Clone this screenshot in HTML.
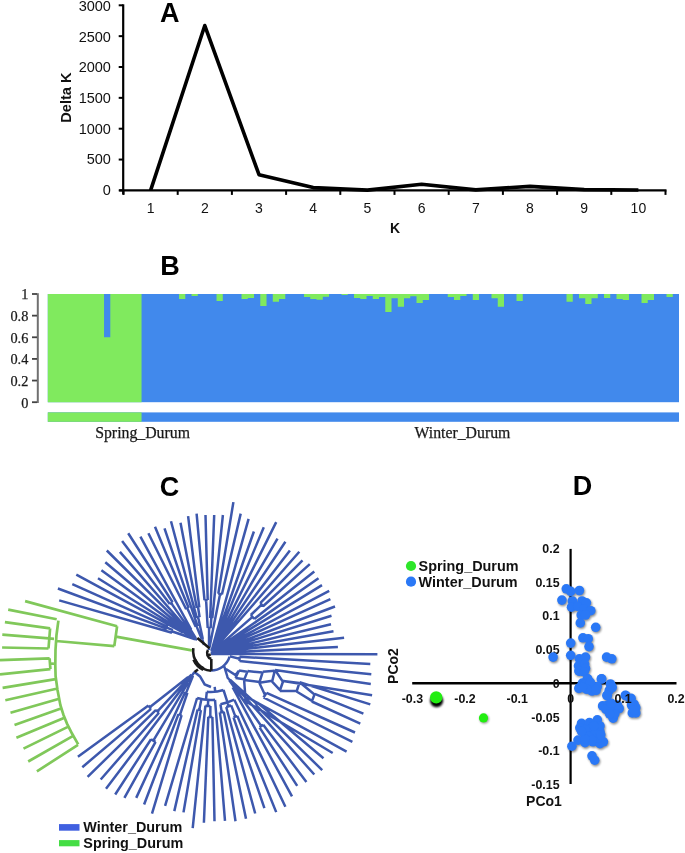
<!DOCTYPE html>
<html><head><meta charset="utf-8"><style>
html,body{margin:0;padding:0;background:#fff;width:685px;height:853px;overflow:hidden}
svg{display:block;will-change:transform}
.sa{font-family:"Liberation Sans",sans-serif;font-size:14px;fill:#111}
.sab{font-family:"Liberation Sans",sans-serif;font-size:14px;font-weight:bold;fill:#111}
.sdb{font-family:"Liberation Sans",sans-serif;font-size:12.4px;font-weight:bold;fill:#111}
.big{font-family:"Liberation Sans",sans-serif;font-size:27px;font-weight:bold;fill:#000}
.se{font-family:"Liberation Serif",serif;font-size:14.3px;fill:#1a1a1a;stroke:#1a1a1a;stroke-width:0.25px}
.se2{font-family:"Liberation Serif",serif;font-size:15.8px;fill:#1a1a1a;stroke:#1a1a1a;stroke-width:0.25px}
</style></head><body>
<svg width="685" height="853" viewBox="0 0 685 853">
<defs><filter id="blur1" x="-50%" y="-50%" width="200%" height="200%"><feGaussianBlur stdDeviation="1"/></filter></defs>
<line x1="123.2" y1="4.299999999999983" x2="123.2" y2="194.4" stroke="#000" stroke-width="2.2"/>
<line x1="118.7" y1="190.40" x2="123.2" y2="190.40" stroke="#000" stroke-width="2"/>
<text x="110.9" y="195.10" text-anchor="end" class="sa" style="font-size:14.5px">0</text>
<line x1="118.7" y1="159.55" x2="123.2" y2="159.55" stroke="#000" stroke-width="2"/>
<text x="110.9" y="164.42" text-anchor="end" class="sa" style="font-size:14.5px">500</text>
<line x1="118.7" y1="128.70" x2="123.2" y2="128.70" stroke="#000" stroke-width="2"/>
<text x="110.9" y="133.74" text-anchor="end" class="sa" style="font-size:14.5px">1000</text>
<line x1="118.7" y1="97.85" x2="123.2" y2="97.85" stroke="#000" stroke-width="2"/>
<text x="110.9" y="103.06" text-anchor="end" class="sa" style="font-size:14.5px">1500</text>
<line x1="118.7" y1="67.00" x2="123.2" y2="67.00" stroke="#000" stroke-width="2"/>
<text x="110.9" y="72.38" text-anchor="end" class="sa" style="font-size:14.5px">2000</text>
<line x1="118.7" y1="36.15" x2="123.2" y2="36.15" stroke="#000" stroke-width="2"/>
<text x="110.9" y="41.70" text-anchor="end" class="sa" style="font-size:14.5px">2500</text>
<line x1="118.7" y1="5.30" x2="123.2" y2="5.30" stroke="#000" stroke-width="2"/>
<text x="110.9" y="11.02" text-anchor="end" class="sa" style="font-size:14.5px">3000</text>
<line x1="119.2" y1="190.4" x2="666.5" y2="190.4" stroke="#000" stroke-width="2.4"/>
<line x1="123.50" y1="190.4" x2="123.50" y2="194.9" stroke="#000" stroke-width="2"/>
<line x1="177.70" y1="190.4" x2="177.70" y2="194.9" stroke="#000" stroke-width="2"/>
<line x1="231.90" y1="190.4" x2="231.90" y2="194.9" stroke="#000" stroke-width="2"/>
<line x1="286.10" y1="190.4" x2="286.10" y2="194.9" stroke="#000" stroke-width="2"/>
<line x1="340.30" y1="190.4" x2="340.30" y2="194.9" stroke="#000" stroke-width="2"/>
<line x1="394.50" y1="190.4" x2="394.50" y2="194.9" stroke="#000" stroke-width="2"/>
<line x1="448.70" y1="190.4" x2="448.70" y2="194.9" stroke="#000" stroke-width="2"/>
<line x1="502.90" y1="190.4" x2="502.90" y2="194.9" stroke="#000" stroke-width="2"/>
<line x1="557.10" y1="190.4" x2="557.10" y2="194.9" stroke="#000" stroke-width="2"/>
<line x1="611.30" y1="190.4" x2="611.30" y2="194.9" stroke="#000" stroke-width="2"/>
<line x1="665.50" y1="190.4" x2="665.50" y2="194.9" stroke="#000" stroke-width="2"/>
<text x="150.60" y="213" text-anchor="middle" class="sa">1</text>
<text x="204.80" y="213" text-anchor="middle" class="sa">2</text>
<text x="259.00" y="213" text-anchor="middle" class="sa">3</text>
<text x="313.20" y="213" text-anchor="middle" class="sa">4</text>
<text x="367.40" y="213" text-anchor="middle" class="sa">5</text>
<text x="421.60" y="213" text-anchor="middle" class="sa">6</text>
<text x="475.80" y="213" text-anchor="middle" class="sa">7</text>
<text x="530.00" y="213" text-anchor="middle" class="sa">8</text>
<text x="584.20" y="213" text-anchor="middle" class="sa">9</text>
<text x="638.40" y="213" text-anchor="middle" class="sa">10</text>
<text x="395" y="232.5" text-anchor="middle" class="sab">K</text>
<text transform="translate(71.2,97.6) rotate(-90)" text-anchor="middle" class="sab" style="font-size:14.6px">Delta K</text>
<polyline points="150.60,190.40 204.80,25.54 259.00,174.73 313.20,187.62 367.40,190.09 421.60,184.29 475.80,189.91 530.00,186.33 584.20,189.66 638.40,190.03" fill="none" stroke="#000" stroke-width="3.6" stroke-linejoin="round"/>
<text x="169.7" y="22.3" text-anchor="middle" class="big">A</text>
<rect x="47.8" y="294.0" width="631.20" height="108.19999999999999" fill="#4189ec"/>
<path d="M47.8 294.0H104.05V337.28H110.30V294.0H141.54V402.2H47.8Z" fill="#80ea5e"/>
<path d="M141.54 294.0V294.00H147.79V294.00H154.04V294.00H160.29V294.00H166.54V294.00H172.79V294.00H179.04V298.90H185.29V294.00H191.54V296.00H197.79V294.00H204.04V294.00H210.29V294.00H216.54V300.90H222.79V294.00H229.04V294.00H235.29V294.00H241.53V298.90H247.78V298.10H254.03V294.00H260.28V305.90H266.53V294.00H272.78V301.80H279.03V298.90H285.28V294.00H291.53V294.00H297.78V294.00H304.03V297.00H310.28V298.90H316.53V299.80H322.78V296.80H329.03V294.00H335.28V294.00H341.53V295.00H347.78V294.00H354.03V298.10H360.28V298.90H366.52V296.10H372.77V298.90H379.02V297.10H385.27V311.90H391.52V298.20H397.77V306.80H404.02V298.20H410.27V296.20H416.52V303.10H422.77V300.00H429.02V294.00H435.27V294.00H441.52V294.00H447.77V297.10H454.02V299.90H460.27V296.10H466.52V294.00H472.77V299.90H479.02V294.00H485.27V294.00H491.51V298.20H497.76V306.80H504.01V294.00H510.26V294.00H516.51V301.10H522.76V294.00H529.01V294.00H535.26V294.00H541.51V294.00H547.76V294.00H554.01V294.00H560.26V294.00H566.51V301.80H572.76V294.00H579.01V298.20H585.26V304.00H591.51V298.20H597.76V294.00H604.01V298.00H610.26V294.00H616.50V299.00H622.75V299.90H629.00V294.00H635.25V294.00H641.50V303.00H647.75V299.90H654.00V294.00H660.25V294.00H666.50V296.90H672.75V294.00H679.00V294.0Z" fill="#80ea5e"/>
<rect x="47.8" y="412.4" width="631.20" height="9.4" fill="#4189ec"/>
<rect x="47.8" y="412.4" width="93.74" height="9.4" fill="#80ea5e"/>
<line x1="37.8" y1="293.2" x2="37.8" y2="403.0" stroke="#707070" stroke-width="2"/>
<line x1="32" y1="402.20" x2="37" y2="402.20" stroke="#444" stroke-width="1.8"/>
<text x="28.3" y="407.50" text-anchor="end" class="se">0</text>
<line x1="32" y1="380.56" x2="37" y2="380.56" stroke="#444" stroke-width="1.8"/>
<text x="28.3" y="385.86" text-anchor="end" class="se">0.2</text>
<line x1="32" y1="358.92" x2="37" y2="358.92" stroke="#444" stroke-width="1.8"/>
<text x="28.3" y="364.22" text-anchor="end" class="se">0.4</text>
<line x1="32" y1="337.28" x2="37" y2="337.28" stroke="#444" stroke-width="1.8"/>
<text x="28.3" y="342.58" text-anchor="end" class="se">0.6</text>
<line x1="32" y1="315.64" x2="37" y2="315.64" stroke="#444" stroke-width="1.8"/>
<text x="28.3" y="320.94" text-anchor="end" class="se">0.8</text>
<line x1="32" y1="294.00" x2="37" y2="294.00" stroke="#444" stroke-width="1.8"/>
<text x="28.3" y="299.30" text-anchor="end" class="se">1</text>
<text x="95.2" y="438.4" class="se2">Spring_Durum</text>
<text x="414.5" y="438.4" class="se2">Winter_Durum</text>
<text x="170" y="275.3" text-anchor="middle" class="big">B</text>
<text x="169.6" y="495.5" text-anchor="middle" class="big">C</text>
<rect x="59" y="824.1" width="20.5" height="6.6" fill="#4060e0"/>
<rect x="59" y="840.1" width="20.5" height="6.2" fill="#44dd44"/>
<text x="83.3" y="831.9" class="sab" style="font-size:14.4px">Winter_Durum</text>
<text x="83.3" y="848.3" class="sab" style="font-size:14.4px">Spring_Durum</text>
<path d="M191.8 650.3L115.9 636.7M117.1 626.2L114.3 646.1M117.1 626.2L25.1 601.1M114.3 646.1L56 641M58.4 620.6L56.5 635L55.5 650L55.3 665L55.6 676.3L57.5 690L60.4 705.2L63.5 715L67 723.6L72 733.5L78.2 744.3M56.7 619.3L8.2 609.6M55.7 679.1L2.6 687.8M57.5 688.5L5.3 700.2M60.1 698.5L10.5 712.8M61.6 708.3L14.5 724.9M65.1 717.4L16.4 737.8M67.8 726.9L23.5 748.6M72.7 736.2L28.2 761.5M78.0 744.8L36.9 771.4M50.1 628.4L48.5 648.5M54.0 638.8L49.0 638.4M50.1 628.4L4.9 622.1M49.0 638.4L2.3 634.7M48.5 648.5L2.1 647.5M49.6 658.4L50.4 669.2M53.9 663.5L49.9 663.8M49.6 658.4L0 660.2M50.4 669.2L0 674.3" fill="none" stroke="#80c85a" stroke-width="2.7"/>
<path d="M172.0 632.8L59.2 600.4M167.0 628.9L57.9 588.5M167.8 626.9L72.3 584.1M167.0 628.9A32.0 32.0 0 0 1 167.8 626.9M172.9 630.2L167.4 627.9M172.0 632.8A26.0 26.0 0 0 1 172.9 630.2M195.1 639.3L172.4 631.5M182.9 632.4L76.3 574.6M183.4 631.5L98.0 578.2M182.9 632.4A16.0 16.0 0 0 1 183.4 631.5M195.3 639.0L183.2 631.9M187.3 632.9L101.4 570.2M187.8 632.2L105.3 562.2M187.3 632.9A12.0 12.0 0 0 1 187.8 632.2M195.4 638.8L187.6 632.6M184.2 627.3L106.8 550.5M185.1 626.5L119.9 551.9M184.2 627.3A18.0 18.0 0 0 1 185.1 626.5M195.6 638.5L184.7 626.9M169.8 604.1L122.1 541.0M172.6 602.2L128.2 533.2M169.8 604.1A45.0 45.0 0 0 1 172.6 602.2M190.1 630.2L171.2 603.1M191.2 629.5L140.4 536.6M190.1 630.2A12.0 12.0 0 0 1 191.2 629.5M195.9 638.3L190.7 629.8M195.1 639.3A2.0 2.0 0 0 1 195.9 638.3M197.0 640.0L195.4 638.8M186.2 609.2L148.4 533.2M188.7 608.0L155.0 526.8M186.2 609.2A40.0 40.0 0 0 1 188.7 608.0M195.7 626.8L187.4 608.6M197.6 626.1L164.5 528.3M195.7 626.8A20.0 20.0 0 0 1 197.6 626.1M201.8 639.4L196.6 626.4M196.8 617.9L171.0 521.3M196.8 607.7L180.5 522.7M199.3 607.3L188.1 516.2M196.8 607.7A38.0 38.0 0 0 1 199.3 607.3M199.6 617.3L198.1 607.5M196.8 617.9A28.0 28.0 0 0 1 199.6 617.3M202.8 639.1L198.2 617.6M201.8 639.4A6.0 6.0 0 0 1 202.8 639.1M204.0 645.0L202.3 639.3M204.5 600.2L196.6 513.6M207.7 600.0L205.5 515.0M204.5 600.2A50.0 50.0 0 0 1 207.7 600.0M207.7 628.0L206.1 600.1M210.2 618.0L214.2 515.0M212.3 618.2L222.9 515.0M210.2 618.0A32.0 32.0 0 0 1 212.3 618.2M210.6 628.1L211.3 618.1M207.7 628.0A22.0 22.0 0 0 1 210.6 628.1M209.0 647.0L209.1 628.0M218.3 593.8L233.4 502.1M221.9 594.5L240.7 513.6M218.3 593.8A57.0 57.0 0 0 1 221.9 594.5M211.7 636.3L220.1 594.1M211.7 636.3A14.0 14.0 0 0 1 211.7 636.3M209.6 647.1L211.7 636.3M209.0 647.0A3.0 3.0 0 0 1 209.6 647.1M209.0 650.0L209.3 647.0M211.5 651.1L248.6 518.9M213.7 645.5L253.9 531.5M214.1 645.6L263.8 527.3M213.7 645.5A8.0 8.0 0 0 1 214.1 645.6M211.7 651.1L213.9 645.5M211.9 651.2L276.2 522.1M212.0 651.3L277.5 538.6M214.3 648.0L285.4 541.8M214.7 648.2L289.9 550.4M214.3 648.0A6.0 6.0 0 0 1 214.7 648.2M212.2 651.4L214.5 648.1M212.3 651.5L299.3 551.7M260.2 603.2L302.5 560.4M263.0 606.2L309.8 564.1M260.2 603.2A70.0 70.0 0 0 1 263.0 606.2M250.8 615.0L261.6 604.7M254.2 618.9L314.3 571.4M250.8 615.0A55.0 55.0 0 0 1 254.2 618.9M212.5 651.7L252.5 616.9M212.6 651.9L318.5 578.3M212.7 652.0L322.0 585.1M218.1 649.3L329.2 590.9M218.3 649.7L330.4 599.2M218.1 649.3A8.0 8.0 0 0 1 218.3 649.7M212.8 652.1L218.2 649.5M212.9 652.3L335.0 606.5M212.9 652.4L331.5 615.8M220.7 650.7L331.0 624.2M220.8 651.3L333.5 631.3M220.7 650.7A10.0 10.0 0 0 1 220.8 651.3M213.0 652.6L220.8 651.0M213.0 652.8L344.1 637.7M213.0 652.9L337.9 647.1M211.5 651.1A2.0 2.0 0 0 1 213.0 652.9M211.0 653.0L212.6 651.8M257.6 702.8L323.5 758.2M255.6 705.0L322.2 770.1M257.6 702.8A40.0 40.0 0 0 1 255.6 705.0M230.0 679.7L256.6 703.9M235.0 685.9L314.3 774.5M263.2 724.8L306.4 781.9M259.5 727.4L297.2 785.9M263.2 724.8A60.0 60.0 0 0 1 259.5 727.4M233.9 686.8L261.4 726.2M232.7 687.5L292.0 796.4M235.0 685.9A12.0 12.0 0 0 1 232.7 687.5M229.3 680.3L233.9 686.8M230.0 679.7A4.0 4.0 0 0 1 229.3 680.3M227.0 677.0L229.7 680.0M225 669L227.5 677M244.1 679.9L245.5 698.7M246.7 696.9L244.3 700.5M246.7 696.9L346.6 751.7M244.3 700.5L332.7 753M259.3 682.8L265 695M266.6 692.8L263.5 697.5M266.6 692.8L355 732.5M263.5 697.5L352.4 741.9M197.1 698.0L165.1 805.8M197.6 709.5L174.3 811.1M200.9 710.1L183.5 812.4M200.9 710.1A60.0 60.0 0 0 1 197.6 709.5M201.4 699.1L199.3 709.8M205.4 705.7L192.7 828.2M208.3 716.9L203.9 822.7M212.4 717.0L214.5 821.3M212.4 717.0A66.0 66.0 0 0 1 208.3 716.9M210.4 706.0L210.3 717.0M210.4 706.0A55.0 55.0 0 0 1 205.4 705.7M208.2 699.9L207.9 705.9M215.0 699.8L225.0 820.8M215.0 699.8A49.0 49.0 0 0 1 197.1 698.0M206.8 691.8L206.0 699.7M219.8 712.4L235.5 821.3M223.7 711.7L246.0 818.7M223.7 711.7A62.0 62.0 0 0 1 219.8 712.4M220.4 704.2L221.8 712.1M226.2 707.0L255.2 813.5M233.5 717.3L264.4 808.2M237.3 715.9L276.2 812.1M237.3 715.9A70.0 70.0 0 0 1 233.5 717.3M231.2 705.4L235.4 716.6M231.2 705.4A58.0 58.0 0 0 1 226.2 707.0M227.5 702.4L228.7 706.2M234.3 699.7L285.4 806.8M234.3 699.7A54.0 54.0 0 0 1 220.4 704.2M223.5 690.0L227.5 702.4M223.5 690.0A41.0 41.0 0 0 1 206.8 691.8M214.7 686.8L215.2 691.8M194.5 672L200 676.4L204.7 684.5L211 687M181.6 715.1L152.0 813.7M178.5 714.1L144.1 804.5M181.6 715.1A45.0 45.0 0 0 1 178.5 714.1M187.4 692.8L180.0 714.6M185.3 692.0L136.2 797.9M187.4 692.8A22.0 22.0 0 0 1 185.3 692.0M193.0 675.7L186.3 692.4M155.6 741.9L124.4 797.9M151.0 739.2L115.2 794.5M155.6 741.9A80.0 80.0 0 0 1 151.0 739.2M188.3 682.3L153.3 740.6M187.2 681.6L106.0 788.7M188.3 682.3A12.0 12.0 0 0 1 187.2 681.6M192.3 675.3L187.8 681.9M159.0 712.7L100.7 779.5M156.0 709.8L87.6 776.9M159.0 712.7A54.0 54.0 0 0 1 156.0 709.8M189.0 677.8L157.4 711.3M151.0 708.9L82.3 767.2M148.4 705.5L77.9 756.7M151.0 708.9A57.0 57.0 0 0 1 148.4 705.5M188.2 676.9L149.7 707.2M189.0 677.8A8.0 8.0 0 0 1 188.2 676.9M191.5 674.7L188.6 677.4M193.0 675.7A4.0 4.0 0 0 1 191.5 674.7M194.5 672.0L192.2 675.3M211 654L377.4 654.2M229.9 656.4L239.5 658.8M239.5 656.8L239.5 661M239.5 656.8L370.3 663.9M239.5 661L371.3 674.2M226 669L235.5 675L239 670.6M239 670.6L235.5 678M239 670.6L247.3 671.8M235.5 678L244.4 679.2M247.6 671.1L244.1 679.9M247.6 671.1L262.5 672.6M244.1 679.9L259.6 681.9M262.8 671.7L259.3 682.8M262.8 671.7L274.8 670.8M259.3 682.8L272.3 680.7M275 669.9L272.1 681.6M275 669.9L282.9 681.8M272.1 681.6L280.0 690.2M283.2 681L279.7 691M283.2 681L299.4 682.9M279.7 691L296.8 690.8M299.6 682.2L296.6 691.5M299.6 682.2L314.5 694.5M296.6 691.5L312.0 700.9M314.7 693.9L311.8 701.5M275 669.9L370.8 684.1M283.2 681L372.1 695.2M299.6 682.2L370.3 704.4M314.7 693.9L363.4 713.6M311.8 701.5L360.3 723.6M229.6 656.7A19.5 19.5 0 0 1 211.0 670.5M226 671L224 666" fill="none" stroke="#3d58ad" stroke-width="2.5"/>
<path d="M198 669.5L194.5 672M193.3 648.2A19 20 0 0 0 211 670.8M211.3 659L211.3 670.8M211.3 659A6 6 0 0 1 208 650M209.5 648.2L197.3 638.1M207.3 654.8L210.8 654.8" fill="none" stroke="#1a1a1a" stroke-width="2.6"/>
<path d="M194.2 659.5A19 20 0 0 0 203.5 669.2" fill="none" stroke="#1a1a1a" stroke-width="4.2"/>

<line x1="570.6" y1="548.9" x2="570.6" y2="784" stroke="#000" stroke-width="2.2"/>
<line x1="412.2" y1="683.2" x2="676.5" y2="683.2" stroke="#000" stroke-width="2.4"/>
<text x="559.6" y="552.8" text-anchor="end" class="sdb">0.2</text>
<text x="559.6" y="586.9" text-anchor="end" class="sdb">0.15</text>
<text x="559.6" y="620.4" text-anchor="end" class="sdb">0.1</text>
<text x="559.6" y="654.0" text-anchor="end" class="sdb">0.05</text>
<text x="559.6" y="687.5" text-anchor="end" class="sdb">0</text>
<text x="559.6" y="721.6" text-anchor="end" class="sdb">-0.05</text>
<text x="559.6" y="754.5" text-anchor="end" class="sdb">-0.1</text>
<text x="559.6" y="788.6" text-anchor="end" class="sdb">-0.15</text>
<text x="544" y="805.9" text-anchor="middle" class="sab">PCo1</text>
<text transform="translate(397.7,666) rotate(-90)" text-anchor="middle" class="sab">PCo2</text>
<text x="582.5" y="494.8" text-anchor="middle" class="big">D</text>
<circle cx="411" cy="566" r="5.1" fill="#2ee62a"/>
<circle cx="411" cy="581.7" r="5.1" fill="#2a78f6"/>
<text x="418.6" y="571.2" class="sab" style="font-size:14.4px">Spring_Durum</text>
<text x="418.6" y="587.3" class="sab" style="font-size:14.4px">Winter_Durum</text>
<g fill="#000" opacity="0.45" filter="url(#blur1)"><circle cx="567.2" cy="590.2" r="4.8"/><circle cx="571.6" cy="592.8" r="4.8"/><circle cx="580.3" cy="591.9" r="4.8"/><circle cx="562.8" cy="601.5" r="4.8"/><circle cx="573.3" cy="602.4" r="4.8"/><circle cx="582.9" cy="602.4" r="4.8"/><circle cx="587.3" cy="604.2" r="4.8"/><circle cx="572.4" cy="608.6" r="4.8"/><circle cx="578.6" cy="607.7" r="4.8"/><circle cx="584.7" cy="610.3" r="4.8"/><circle cx="591.7" cy="612.1" r="4.8"/><circle cx="582.1" cy="616.4" r="4.8"/><circle cx="586.4" cy="616.4" r="4.8"/><circle cx="581.2" cy="624.3" r="4.8"/><circle cx="596.6" cy="628.7" r="4.8"/><circle cx="583.8" cy="639.2" r="4.8"/><circle cx="589.1" cy="640.1" r="4.8"/><circle cx="571.6" cy="644.5" r="4.8"/><circle cx="589.9" cy="648.0" r="4.8"/><circle cx="554.0" cy="658.5" r="4.8"/><circle cx="571.6" cy="656.7" r="4.8"/><circle cx="580.3" cy="660.2" r="4.8"/><circle cx="586.4" cy="658.5" r="4.8"/><circle cx="607.5" cy="658.5" r="4.8"/><circle cx="612.7" cy="660.2" r="4.8"/><circle cx="579.4" cy="667.2" r="4.8"/><circle cx="585.6" cy="665.5" r="4.8"/><circle cx="580.3" cy="672.5" r="4.8"/><circle cx="586.4" cy="669.9" r="4.8"/><circle cx="588.2" cy="680.4" r="4.8"/><circle cx="602.2" cy="680.4" r="4.8"/><circle cx="580.3" cy="689.1" r="4.8"/><circle cx="586.4" cy="686.5" r="4.8"/><circle cx="593.5" cy="688.3" r="4.8"/><circle cx="597.0" cy="691.8" r="4.8"/><circle cx="611.9" cy="686.5" r="4.8"/><circle cx="610.1" cy="691.8" r="4.8"/><circle cx="608.3" cy="697.0" r="4.8"/><circle cx="626.7" cy="697.0" r="4.8"/><circle cx="632.0" cy="699.7" r="4.8"/><circle cx="579.8" cy="672.3" r="4.8"/><circle cx="585.1" cy="673.2" r="4.8"/><circle cx="588.6" cy="680.2" r="4.8"/><circle cx="602.6" cy="680.2" r="4.8"/><circle cx="583.3" cy="684.5" r="4.8"/><circle cx="579.8" cy="689.8" r="4.8"/><circle cx="592.9" cy="688.0" r="4.8"/><circle cx="598.2" cy="688.0" r="4.8"/><circle cx="592.9" cy="692.4" r="4.8"/><circle cx="611.3" cy="685.4" r="4.8"/><circle cx="613.1" cy="688.9" r="4.8"/><circle cx="607.8" cy="696.8" r="4.8"/><circle cx="603.5" cy="707.3" r="4.8"/><circle cx="611.3" cy="708.2" r="4.8"/><circle cx="617.5" cy="710.8" r="4.8"/><circle cx="613.1" cy="713.4" r="4.8"/><circle cx="620.1" cy="709.9" r="4.8"/><circle cx="614.0" cy="719.6" r="4.8"/><circle cx="626.2" cy="696.8" r="4.8"/><circle cx="631.5" cy="700.3" r="4.8"/><circle cx="635.0" cy="705.6" r="4.8"/><circle cx="636.7" cy="709.1" r="4.8"/><circle cx="633.2" cy="714.3" r="4.8"/><circle cx="636.7" cy="714.3" r="4.8"/><circle cx="582.4" cy="724.8" r="4.8"/><circle cx="590.3" cy="724.0" r="4.8"/><circle cx="598.2" cy="721.3" r="4.8"/><circle cx="591.2" cy="731.0" r="4.8"/><circle cx="598.2" cy="729.2" r="4.8"/><circle cx="600.8" cy="732.7" r="4.8"/><circle cx="585.9" cy="736.2" r="4.8"/><circle cx="594.7" cy="738.0" r="4.8"/><circle cx="578.9" cy="741.5" r="4.8"/><circle cx="572.8" cy="747.6" r="4.8"/><circle cx="585.9" cy="744.1" r="4.8"/><circle cx="593.8" cy="743.2" r="4.8"/><circle cx="600.8" cy="745.0" r="4.8"/><circle cx="604.3" cy="743.2" r="4.8"/><circle cx="592.9" cy="757.2" r="4.8"/><circle cx="595.6" cy="761.6" r="4.8"/><circle cx="580.7" cy="729.2" r="4.8"/><circle cx="591.2" cy="731.0" r="4.8"/><circle cx="585.9" cy="731.0" r="4.8"/><circle cx="596.4" cy="734.4" r="4.8"/><circle cx="589.4" cy="738.0" r="4.8"/><circle cx="598.2" cy="739.7" r="4.8"/><circle cx="592.9" cy="741.4" r="4.8"/><circle cx="585.9" cy="740.6" r="4.8"/><circle cx="582.4" cy="732.7" r="4.8"/><circle cx="601.7" cy="736.2" r="4.8"/><circle cx="600.9" cy="727.4" r="4.8"/><circle cx="594.7" cy="727.4" r="4.8"/><circle cx="608.7" cy="706.4" r="4.8"/><circle cx="606.9" cy="710.8" r="4.8"/><circle cx="615.7" cy="715.2" r="4.8"/><circle cx="610.5" cy="715.2" r="4.8"/><circle cx="618.3" cy="706.4" r="4.8"/><circle cx="612.2" cy="704.7" r="4.8"/><circle cx="585.9" cy="685.4" r="4.8"/><circle cx="591.2" cy="683.7" r="4.8"/><circle cx="596.4" cy="690.7" r="4.8"/><circle cx="587.7" cy="690.7" r="4.8"/><circle cx="583.3" cy="688.9" r="4.8"/><circle cx="632.4" cy="706.4" r="4.8"/><circle cx="635.0" cy="711.7" r="4.8"/></g>
<g fill="#2a78f6"><circle cx="566.3" cy="588.8" r="4.8"/><circle cx="570.7" cy="591.4" r="4.8"/><circle cx="579.4" cy="590.5" r="4.8"/><circle cx="561.9" cy="600.1" r="4.8"/><circle cx="572.4" cy="601" r="4.8"/><circle cx="582" cy="601" r="4.8"/><circle cx="586.4" cy="602.8" r="4.8"/><circle cx="571.5" cy="607.2" r="4.8"/><circle cx="577.7" cy="606.3" r="4.8"/><circle cx="583.8" cy="608.9" r="4.8"/><circle cx="590.8" cy="610.7" r="4.8"/><circle cx="581.2" cy="615" r="4.8"/><circle cx="585.5" cy="615" r="4.8"/><circle cx="580.3" cy="622.9" r="4.8"/><circle cx="595.7" cy="627.3" r="4.8"/><circle cx="582.9" cy="637.8" r="4.8"/><circle cx="588.2" cy="638.7" r="4.8"/><circle cx="570.7" cy="643.1" r="4.8"/><circle cx="589" cy="646.6" r="4.8"/><circle cx="553.1" cy="657.1" r="4.8"/><circle cx="570.7" cy="655.3" r="4.8"/><circle cx="579.4" cy="658.8" r="4.8"/><circle cx="585.5" cy="657.1" r="4.8"/><circle cx="606.6" cy="657.1" r="4.8"/><circle cx="611.8" cy="658.8" r="4.8"/><circle cx="578.5" cy="665.8" r="4.8"/><circle cx="584.7" cy="664.1" r="4.8"/><circle cx="579.4" cy="671.1" r="4.8"/><circle cx="585.5" cy="668.5" r="4.8"/><circle cx="587.3" cy="679" r="4.8"/><circle cx="601.3" cy="679" r="4.8"/><circle cx="579.4" cy="687.7" r="4.8"/><circle cx="585.5" cy="685.1" r="4.8"/><circle cx="592.6" cy="686.9" r="4.8"/><circle cx="596.1" cy="690.4" r="4.8"/><circle cx="611" cy="685.1" r="4.8"/><circle cx="609.2" cy="690.4" r="4.8"/><circle cx="607.4" cy="695.6" r="4.8"/><circle cx="625.8" cy="695.6" r="4.8"/><circle cx="631.1" cy="698.3" r="4.8"/><circle cx="578.9" cy="670.9" r="4.8"/><circle cx="584.2" cy="671.8" r="4.8"/><circle cx="587.7" cy="678.8" r="4.8"/><circle cx="601.7" cy="678.8" r="4.8"/><circle cx="582.4" cy="683.1" r="4.8"/><circle cx="578.9" cy="688.4" r="4.8"/><circle cx="592" cy="686.6" r="4.8"/><circle cx="597.3" cy="686.6" r="4.8"/><circle cx="592" cy="691" r="4.8"/><circle cx="610.4" cy="684" r="4.8"/><circle cx="612.2" cy="687.5" r="4.8"/><circle cx="606.9" cy="695.4" r="4.8"/><circle cx="602.6" cy="705.9" r="4.8"/><circle cx="610.4" cy="706.8" r="4.8"/><circle cx="616.6" cy="709.4" r="4.8"/><circle cx="612.2" cy="712" r="4.8"/><circle cx="619.2" cy="708.5" r="4.8"/><circle cx="613.1" cy="718.2" r="4.8"/><circle cx="625.3" cy="695.4" r="4.8"/><circle cx="630.6" cy="698.9" r="4.8"/><circle cx="634.1" cy="704.2" r="4.8"/><circle cx="635.8" cy="707.7" r="4.8"/><circle cx="632.3" cy="712.9" r="4.8"/><circle cx="635.8" cy="712.9" r="4.8"/><circle cx="581.5" cy="723.4" r="4.8"/><circle cx="589.4" cy="722.6" r="4.8"/><circle cx="597.3" cy="719.9" r="4.8"/><circle cx="590.3" cy="729.6" r="4.8"/><circle cx="597.3" cy="727.8" r="4.8"/><circle cx="599.9" cy="731.3" r="4.8"/><circle cx="585" cy="734.8" r="4.8"/><circle cx="593.8" cy="736.6" r="4.8"/><circle cx="578" cy="740.1" r="4.8"/><circle cx="571.9" cy="746.2" r="4.8"/><circle cx="585" cy="742.7" r="4.8"/><circle cx="592.9" cy="741.8" r="4.8"/><circle cx="599.9" cy="743.6" r="4.8"/><circle cx="603.4" cy="741.8" r="4.8"/><circle cx="592" cy="755.8" r="4.8"/><circle cx="594.7" cy="760.2" r="4.8"/><circle cx="579.8" cy="727.8" r="4.8"/><circle cx="590.3" cy="729.6" r="4.8"/><circle cx="585" cy="729.6" r="4.8"/><circle cx="595.5" cy="733" r="4.8"/><circle cx="588.5" cy="736.6" r="4.8"/><circle cx="597.3" cy="738.3" r="4.8"/><circle cx="592" cy="740" r="4.8"/><circle cx="585" cy="739.2" r="4.8"/><circle cx="581.5" cy="731.3" r="4.8"/><circle cx="600.8" cy="734.8" r="4.8"/><circle cx="600" cy="726" r="4.8"/><circle cx="593.8" cy="726" r="4.8"/><circle cx="607.8" cy="705" r="4.8"/><circle cx="606" cy="709.4" r="4.8"/><circle cx="614.8" cy="713.8" r="4.8"/><circle cx="609.6" cy="713.8" r="4.8"/><circle cx="617.4" cy="705" r="4.8"/><circle cx="611.3" cy="703.3" r="4.8"/><circle cx="585" cy="684" r="4.8"/><circle cx="590.3" cy="682.3" r="4.8"/><circle cx="595.5" cy="689.3" r="4.8"/><circle cx="586.8" cy="689.3" r="4.8"/><circle cx="582.4" cy="687.5" r="4.8"/><circle cx="631.5" cy="705" r="4.8"/><circle cx="634.1" cy="710.3" r="4.8"/></g>
<circle cx="436.6" cy="700.6" r="6.6" fill="#000" filter="url(#blur1)"/>
<circle cx="436.2" cy="697.4" r="6.2" fill="#22ee11"/>
<circle cx="484.3" cy="719" r="4.7" fill="#000" opacity="0.4" filter="url(#blur1)"/>
<circle cx="483.5" cy="717.9" r="4.6" fill="#22ee11"/>
<text x="412.4" y="702.9" text-anchor="middle" class="sdb">-0.3</text>
<text x="465.0" y="702.9" text-anchor="middle" class="sdb">-0.2</text>
<text x="517.2" y="702.9" text-anchor="middle" class="sdb">-0.1</text>
<text x="570.6" y="702.9" text-anchor="middle" class="sdb">0</text>
<text x="623.0" y="702.9" text-anchor="middle" class="sdb">0.1</text>
<text x="676.0" y="702.9" text-anchor="middle" class="sdb">0.2</text>
</svg>
</body></html>
